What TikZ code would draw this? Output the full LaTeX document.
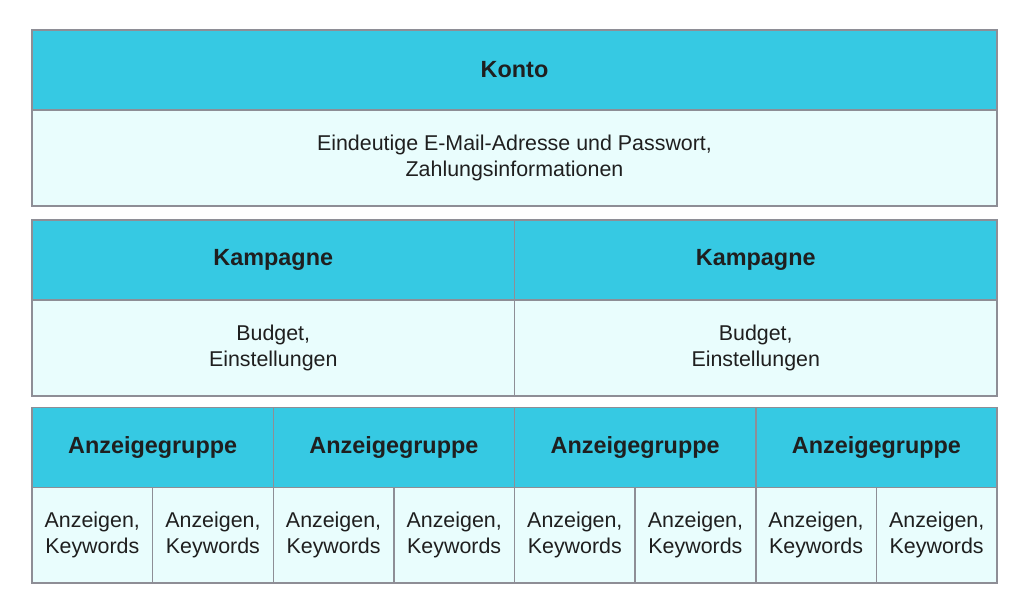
\documentclass[tikz,border=0pt]{standalone}
\usepackage{fontspec}
\setmainfont{Liberation Sans}
\definecolor{headc}{HTML}{36C9E3}
\definecolor{bodyc}{HTML}{E9FDFD}
\definecolor{linec}{HTML}{8E8E96}
\tikzset{
  cell/.style={draw=linec, line width=1.5pt, inner sep=0pt, outer sep=0pt, anchor=north west},
  head/.style={cell, fill=headc, font=\fontsize{23.4}{27}\selectfont\bfseries, text=black!88},
  body/.style={cell, fill=bodyc, font=\fontsize{21.4}{26}\selectfont, align=center, text=black!88},
}
\begin{document}
\begin{tikzpicture}[x=1pt,y=-1pt]
\useasboundingbox[fill=white] (0,0) rectangle (1024,608);
% Konto
\node[head, minimum width=965pt, minimum height=80pt] (konto) at (32,30) {Konto};
\node[body, minimum width=965pt, minimum height=96pt] (kontob) at (32,110) {Eindeutige E-Mail-Adresse und Passwort,\\Zahlungsinformationen};
% Kampagnen
\foreach \i/\x in {1/32,2/514.5} {
  \node[head, minimum width=482.5pt, minimum height=80pt] (k\i) at (\x,220) {Kampagne};
  \node[body, minimum width=482.5pt, minimum height=96pt] (kb\i) at (\x,300) {Budget,\\Einstellungen};
}
% Anzeigegruppen
\foreach \i/\x in {1/32,2/273.25,3/514.5,4/755.75} {
  \node[head, minimum width=241.25pt, minimum height=80pt] (a\i) at (\x,407.5) {Anzeigegruppe};
}
\foreach \i/\x in {1/32,2/152.625,3/273.25,4/393.875,5/514.5,6/635.125,7/755.75,8/876.375} {
  \node[body, minimum width=120.625pt, minimum height=95.5pt] (ab\i) at (\x,487.5) {Anzeigen,\\Keywords};
}
\end{tikzpicture}
\end{document}
